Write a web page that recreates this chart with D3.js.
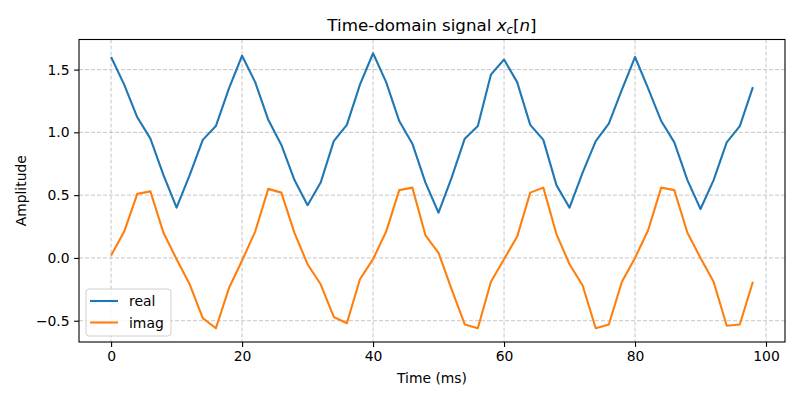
<!DOCTYPE html>
<html>
<head>
<meta charset="utf-8">
<script src="https://cdn.jsdelivr.net/npm/d3@7"></script>
<style>
  body { margin: 0; background: #fff; }
  text { font-family: "DejaVu Sans", sans-serif; }
</style>
</head>
<body>
<div id="main-frame"></div>
<script>
// time samples (ms)
const time = d3.range(0, 100, 2);

const realValues = [
  1.60, 1.38, 1.12, 0.95, 0.66, 0.40, 0.66, 0.94, 1.05, 1.35,
  1.61, 1.40, 1.10, 0.90, 0.62, 0.42, 0.60, 0.93, 1.06, 1.38,
  1.63, 1.40, 1.09, 0.91, 0.60, 0.36, 0.64, 0.95, 1.05, 1.46,
  1.58, 1.40, 1.06, 0.94, 0.58, 0.40, 0.68, 0.93, 1.07, 1.34,
  1.60, 1.35, 1.09, 0.92, 0.62, 0.39, 0.62, 0.92, 1.05, 1.36
];

const imagValues = [
  0.02, 0.21, 0.51, 0.53, 0.20, -0.01, -0.21, -0.48, -0.56, -0.24,
  -0.02, 0.21, 0.55, 0.52, 0.20, -0.05, -0.21, -0.47, -0.52, -0.17,
  -0.01, 0.21, 0.54, 0.56, 0.18, 0.04, -0.25, -0.53, -0.56, -0.19,
  -0.01, 0.17, 0.52, 0.56, 0.19, -0.05, -0.22, -0.56, -0.53, -0.19,
  0.00, 0.22, 0.56, 0.54, 0.20, 0.00, -0.19, -0.54, -0.53, -0.19
];

const xTicks = [0, 20, 40, 60, 80, 100];
const yTicks = [-0.5, 0.0, 0.5, 1.0, 1.5];

const series = [
  { name: "real", values: realValues, color: "#1f77b4" },
  { name: "imag", values: imagValues, color: "#ff7f0e" },
];

const W = 800, H = 400;
const margin = { top: 39.5, right: 15, bottom: 58, left: 79 };
const width = W - margin.left - margin.right;
const height = H - margin.top - margin.bottom;

const svg = d3
  .select("#main-frame")
  .append("svg")
  .attr("width", W)
  .attr("height", H);

const g = svg
  .append("g")
  .attr("transform", `translate(${margin.left}, ${margin.top})`);

// matplotlib-style 5% padding on both axes
const xMin = d3.min(time), xMax = d3.max(time);
const xPad = (xMax - xMin) * 0.05;
const allY = realValues.concat(imagValues);
const yMin = d3.min(allY), yMax = d3.max(allY);
const yPad = (yMax - yMin) * 0.05;

const xScale = d3.scaleLinear().domain([xMin - xPad, xMax + xPad]).range([0, width]);
const yScale = d3.scaleLinear().domain([yMin - yPad, yMax + yPad]).range([height, 0]);

// grid
const grid = g.append("g").attr("class", "grid");
grid
  .selectAll("line.gx")
  .data(xTicks)
  .enter()
  .append("line")
  .attr("x1", (d) => xScale(d))
  .attr("x2", (d) => xScale(d))
  .attr("y1", 0)
  .attr("y2", height);
grid
  .selectAll("line.gy")
  .data(yTicks)
  .enter()
  .append("line")
  .attr("x1", 0)
  .attr("x2", width)
  .attr("y1", (d) => yScale(d))
  .attr("y2", (d) => yScale(d));
grid
  .selectAll("line")
  .attr("stroke", "#b0b0b0")
  .attr("stroke-opacity", 0.8)
  .attr("stroke-width", 0.9)
  .attr("stroke-dasharray", "4,2");

// axes
const xAxis = d3.axisBottom(xScale).tickValues(xTicks).tickFormat(d3.format("d")).tickSizeOuter(0).tickSize(4.9).tickPadding(4.5);
const yAxis = d3.axisLeft(yScale).tickValues(yTicks).tickFormat(d3.format(".1f")).tickSizeOuter(0).tickSize(4.9).tickPadding(4.5);

const gx = g.append("g").attr("transform", `translate(0, ${height})`).call(xAxis);
const gy = g.append("g").call(yAxis);
[gx, gy].forEach((a) => {
  a.select(".domain").remove();
  a.selectAll("text").style("font-family", "DejaVu Sans").style("font-size", "13.9px").attr("fill", "#000");
  a.selectAll("line").attr("stroke", "#000").attr("stroke-width", 1.1);
});

// lines
const line = d3
  .line()
  .x((d, i) => xScale(time[i]))
  .y((d) => yScale(d));

g.selectAll("path.series")
  .data(series)
  .enter()
  .append("path")
  .attr("class", "series")
  .attr("d", (d) => line(d.values))
  .attr("fill", "none")
  .attr("stroke", (d) => d.color)
  .attr("stroke-width", 2.1)
  .attr("stroke-linejoin", "round")
  .attr("stroke-linecap", "butt");

// frame
g.append("rect")
  .attr("width", width)
  .attr("height", height)
  .attr("fill", "none")
  .attr("stroke", "#000")
  .attr("stroke-width", 1.1);

// legend
const legend = g.append("g").attr("transform", `translate(7, ${height - 53})`);
legend
  .append("rect")
  .attr("width", 85)
  .attr("height", 47)
  .attr("rx", 3)
  .attr("fill", "#fff")
  .attr("fill-opacity", 0.8)
  .attr("stroke", "#d0d0d0")
  .attr("stroke-width", 1);
const items = legend
  .selectAll("g.item")
  .data(series)
  .enter()
  .append("g")
  .attr("transform", (d, i) => `translate(0, ${12 + i * 21.5})`);
items
  .append("line")
  .attr("x1", 4)
  .attr("x2", 32)
  .attr("stroke", (d) => d.color)
  .attr("stroke-width", 2.1);
items
  .append("text")
  .attr("x", 43)
  .attr("y", 5)
  .style("font-size", "13.9px")
  .text((d) => d.name);

// title
const title = svg
  .append("text")
  .attr("x", margin.left + width / 2)
  .attr("y", 31)
  .attr("text-anchor", "middle")
  .style("font-size", "16.7px");
title.append("tspan").text("Time-domain signal ");
title.append("tspan").style("font-style", "italic").text("x");
title.append("tspan").style("font-style", "italic").style("font-size", "11.7px").attr("dy", 3).text("c");
title.append("tspan").attr("dy", -3).text("[");
title.append("tspan").style("font-style", "italic").text("n");
title.append("tspan").text("]");

// axis labels
svg
  .append("text")
  .attr("x", margin.left + width / 2)
  .attr("y", 383)
  .attr("text-anchor", "middle")
  .style("font-size", "13.9px")
  .text("Time (ms)");

svg
  .append("text")
  .attr("transform", `translate(26, ${margin.top + height / 2}) rotate(-90)`)
  .attr("text-anchor", "middle")
  .style("font-size", "13.9px")
  .text("Amplitude");
</script>
</body>
</html>
